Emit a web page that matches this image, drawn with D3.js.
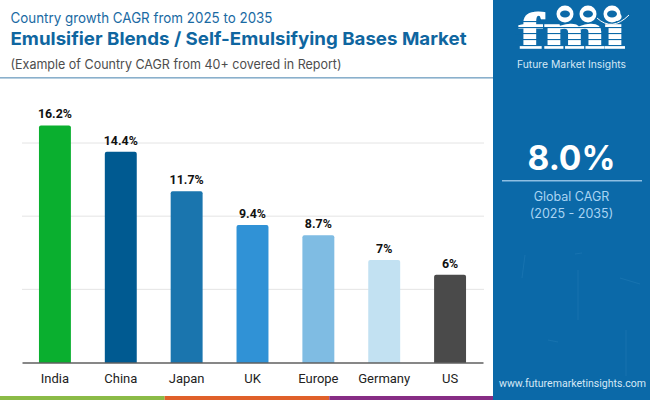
<!DOCTYPE html>
<html>
<head>
<meta charset="utf-8">
<script src="https://cdn.jsdelivr.net/npm/d3@7"></script>
<style>
  html, body { margin: 0; padding: 0; background: #fff; overflow: hidden; }
  svg { display: block; }
  text { font-family: "Inter", "Open Sans", sans-serif; }
</style>
</head>
<body>
<script>
const categories = ["India", "China", "Japan", "UK", "Europe", "Germany", "US"];
const cagrValues = [16.2, 14.4, 11.7, 9.4, 8.7, 7, 6];
const barColors = ["#0aaf2f", "#005a91", "#1a75ae", "#3092d6", "#7fbce3", "#c2e1f2", "#4a4a4a"];
const gridTicks = [5, 10, 15];
const stripColors = ["#8bbb47", "#e0602a", "#872d85"];

const width = 650, height = 400;
const blue = "#0b69a8";
const svg = d3.select("body").append("svg").attr("width", width).attr("height", height);

const x = d3.scaleBand().domain(categories).range([22, 483]).paddingInner(0.515).paddingOuter(0.2575);
const y = d3.scaleLinear().domain([0, 15]).range([362.5, 143]);

// header
svg.append("text").attr("x", 10.5).attr("y", 23).attr("font-size", 14.2).attr("fill", "#1a6aa3")
    .attr("textLength", 262).attr("lengthAdjust", "spacingAndGlyphs")
    .text("Country growth CAGR from 2025 to 2035");
svg.append("text").attr("x", 10.5).attr("y", 45).attr("font-size", 18).attr("font-weight", 700).attr("fill", "#0f66a0")
    .attr("textLength", 456).attr("lengthAdjust", "spacingAndGlyphs")
    .text("Emulsifier Blends / Self-Emulsifying Bases Market");
svg.append("text").attr("x", 10.5).attr("y", 68.5).attr("font-size", 13).attr("fill", "#4d4d4d")
    .attr("textLength", 331).attr("lengthAdjust", "spacingAndGlyphs")
    .text("(Example of Country CAGR from 40+ covered in Report)");
svg.append("rect").attr("x", 0).attr("y", 77).attr("width", 493).attr("height", 1.6).attr("fill", "#8ab0cc");

// grid
svg.append("g").selectAll("line").data(gridTicks).join("line")
    .attr("x1", 22).attr("x2", 484)
    .attr("y1", d => y(d)).attr("y2", d => y(d))
    .attr("stroke", "#e4e4e4").attr("stroke-width", 1);

// bars, rounded at the top only
const r = 2;
svg.append("g").selectAll("path").data(categories).join("path")
    .attr("fill", (d, i) => barColors[i])
    .attr("d", (d, i) => {
        const x0 = x(d), w = x.bandwidth(), top = y(cagrValues[i]), base = y(0);
        return `M${x0},${base}V${top + r}Q${x0},${top} ${x0 + r},${top}H${x0 + w - r}Q${x0 + w},${top} ${x0 + w},${top + r}V${base}Z`;
    });

// value labels
svg.append("g").selectAll("text").data(categories).join("text")
    .attr("x", d => x(d) + x.bandwidth() / 2)
    .attr("y", (d, i) => y(cagrValues[i]) - 7)
    .attr("text-anchor", "middle")
    .attr("font-size", 12.4).attr("font-weight", 700).attr("fill", "#111")
    .style("font-family", "Roboto")
    .text((d, i) => cagrValues[i] + "%");

// x axis
const xAxis = svg.append("g").attr("transform", `translate(0,${y(0)})`)
    .call(d3.axisBottom(x).tickSize(0).tickPadding(11));
xAxis.select(".domain").attr("stroke", "#111").attr("stroke-width", 1.2);
xAxis.selectAll("text").attr("font-size", 13).attr("fill", "#222").style("font-family", "Roboto");

// bottom strip
const stripX = d3.scaleBand().domain(d3.range(stripColors.length)).range([0, 494]);
svg.append("g").selectAll("rect").data(stripColors).join("rect")
    .attr("x", (d, i) => stripX(i)).attr("y", 396)
    .attr("width", stripX.bandwidth()).attr("height", 4)
    .attr("fill", d => d);

// sidebar
const side = svg.append("g");
side.append("rect").attr("x", 493).attr("y", 0).attr("width", 157).attr("height", 400).attr("fill", blue);

// faint streaks in the sidebar background
side.append("g").selectAll("path")
    .data(["M525,255L522,278", "M575,254L582,253", "M548,340L558,342", "M626,330L626,376", "M620,278L640,284", "M578,270L578,320"])
    .join("path").attr("d", d => d)
    .attr("stroke", "#5ea6d6").attr("stroke-opacity", 0.15).attr("stroke-width", 1);

// logo
const logo = side.append("g");
logo.append("text").attr("x", 572).attr("y", 48).attr("text-anchor", "middle")
    .attr("font-size", 51).attr("font-weight", 700).attr("fill", "#fff")
    .attr("stroke", "#fff").attr("stroke-width", 1.6)
    .style("font-family", "Liberation Serif")
    .attr("textLength", 106).attr("lengthAdjust", "spacingAndGlyphs")
    .text("fmi");
logo.append("g").selectAll("rect").data(d3.range(5)).join("rect")
    .attr("x", 515).attr("width", 115)
    .attr("y", d => 21 + d * 6).attr("height", 1.1).attr("fill", blue);
logo.append("g").selectAll("circle").data([565, 588, 612]).join("circle")
    .attr("cx", d => d).attr("cy", 14).attr("r", 8.5).attr("fill", "#fff");
logo.append("g").selectAll("ellipse").data([565, 588, 612]).join("ellipse")
    .attr("cx", d => d).attr("cy", 14).attr("rx", 5).attr("ry", 3.5).attr("fill", blue);
logo.append("path").attr("d", "M597,18Q612,32 629,15")
    .attr("fill", "none").attr("stroke", "#fff").attr("stroke-width", 1);
logo.append("text").attr("x", 571.5).attr("y", 68).attr("text-anchor", "middle")
    .attr("font-size", 10).attr("fill", "#d5e8f6")
    .attr("textLength", 109).attr("lengthAdjust", "spacingAndGlyphs")
    .text("Future Market Insights");

side.append("text").attr("x", 571.5).attr("y", 170).attr("text-anchor", "middle")
    .attr("font-size", 33.5).attr("font-weight", 700).attr("fill", "#fff")
    .text("8.0%");
side.append("rect").attr("x", 502).attr("y", 180).attr("width", 140).attr("height", 1.5).attr("fill", "#8ebfe3");
side.append("text").attr("x", 571.5).attr("y", 201).attr("text-anchor", "middle")
    .attr("font-size", 12.5).attr("fill", "#a9d4f3").text("Global CAGR");
side.append("text").attr("x", 571.5).attr("y", 218).attr("text-anchor", "middle")
    .attr("font-size", 12.5).attr("fill", "#a9d4f3").text("(2025 - 2035)");
side.append("text").attr("x", 572.5).attr("y", 387).attr("text-anchor", "middle")
    .attr("font-size", 10.6).attr("fill", "#d5e8f6")
    .style("font-family", "Roboto")
    .attr("textLength", 147).attr("lengthAdjust", "spacingAndGlyphs")
    .text("www.futuremarketinsights.com");
</script>
</body>
</html>
